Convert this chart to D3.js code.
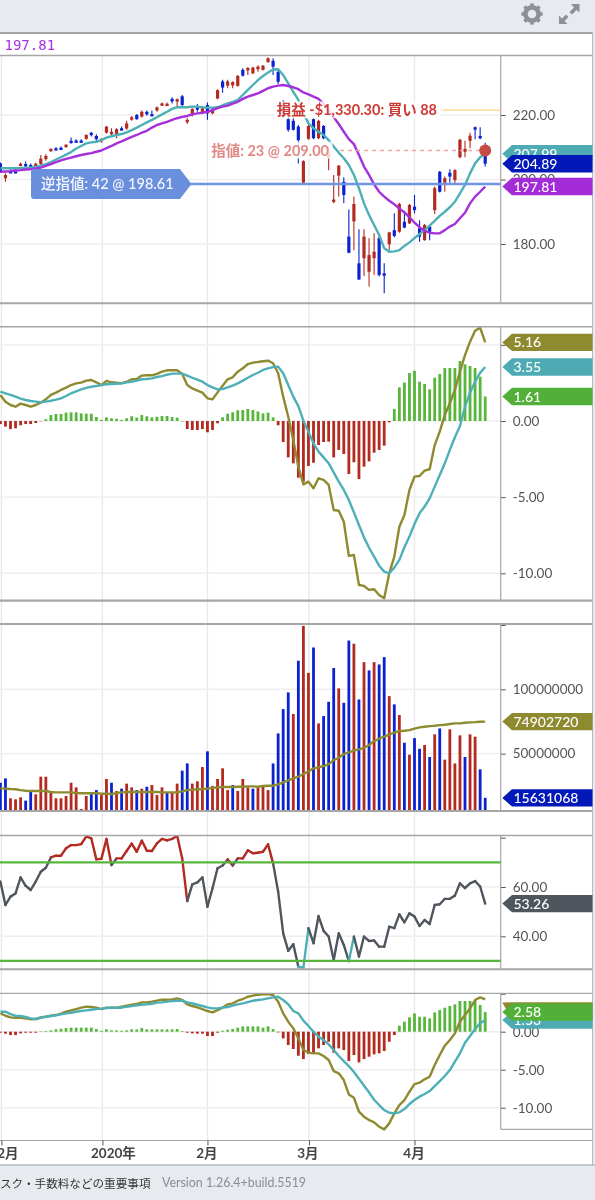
<!DOCTYPE html>
<html>
<head>
<meta charset="utf-8">
<script src="https://cdn.jsdelivr.net/npm/d3@7"></script>
<style>
    html, body { margin: 0; padding: 0; background: #fff; overflow: hidden; }
    svg { display: block; filter: blur(0.5px); font-family: Lato, "Noto Sans CJK JP", sans-serif; }
</style>
</head>
<body>
<svg id="chart" width="595" height="1200"></svg>
<script>
const candleOpen = [
    205.0,200.4,202.6,202.6,204.4,204.8,204.5,204.5,204.8,206.3,
    208.8,209.7,209.9,210.0,212.0,212.1,212.1,212.6,214.5,213.5,
    212.0,214.5,214.1,214.1,215.9,215.8,218.7,220.0,219.5,221.0,
    220.3,221.4,223.1,223.1,225.0,224.3,225.8,218.2,220.0,222.4,
    221.0,223.1,220.5,225.1,230.4,229.1,229.2,229.0,234.0,233.8,
    232.9,234.2,234.0,236.4,236.8,233.4,224.1,218.7,218.2,216.4,
    199.0,212.6,218.7,212.8,216.6,206.6,193.2,201.2,199.3,182.3,
    187.0,174.0,175.6,171.4,175.6,181.8,170.9,179.9,184.3,183.8,
    186.9,186.4,191.6,184.9,181.2,185.4,190.5,202.4,199.0,202.1,
    199.8,206.9,208.6,212.0,216.2,213.5,208.1
];
const candleHigh = [
    205.3,201.9,203.2,203.2,205.3,205.6,205.0,205.2,207.6,207.8,
    209.7,210.0,210.2,210.9,213.0,212.5,212.5,214.0,214.7,214.0,
    212.8,216.6,215.9,215.9,216.4,218.2,219.7,220.3,221.4,221.4,
    221.4,222.6,223.9,223.9,225.5,225.1,226.2,219.0,222.1,223.4,
    222.6,223.9,222.4,228.0,230.9,230.9,230.5,232.4,234.5,234.8,
    235.0,235.4,235.5,237.8,237.6,233.9,224.6,220.5,219.5,216.9,
    206.0,216.9,219.0,218.5,216.9,210.2,201.4,204.5,200.7,190.7,
    194.7,184.6,184.6,181.8,183.3,183.3,174.0,183.8,189.5,192.8,
    190.3,192.4,195.2,187.4,186.2,185.6,197.8,202.6,200.9,203.2,
    203.2,212.6,212.0,214.5,216.4,216.2,211.4
];
const candleLow = [
    202.1,199.3,202.1,202.1,204.2,204.0,204.0,204.2,204.5,205.8,
    208.6,209.2,209.4,209.9,211.2,211.6,211.6,212.3,213.3,211.4,
    211.4,214.3,213.5,212.8,215.2,215.4,218.2,218.5,219.2,219.8,
    219.7,221.0,222.8,222.8,223.6,222.8,222.1,217.2,219.5,221.0,
    220.5,218.5,220.2,224.9,226.9,228.3,228.3,228.8,231.9,232.4,
    232.7,233.4,233.8,236.2,232.4,229.6,219.0,214.8,215.2,205.0,
    198.8,212.3,212.5,212.5,212.5,202.9,192.6,194.7,192.6,177.1,
    178.1,168.8,170.1,166.8,170.4,169.9,164.7,178.1,182.1,183.5,
    184.9,186.2,189.5,180.7,181.0,181.2,189.3,196.0,196.2,199.0,
    198.8,206.6,206.9,209.7,212.5,212.5,204.0
];
const candleClose = [
    202.4,201.4,202.3,202.3,204.9,204.4,204.3,204.9,206.5,207.3,
    209.5,209.4,209.6,210.8,211.7,211.8,211.8,213.8,214.1,212.5,
    212.6,216.4,214.8,215.6,215.6,217.4,219.3,218.7,221.0,220.2,
    220.1,222.4,223.6,223.5,224.2,224.9,223.1,218.5,221.9,222.2,
    222.1,220.5,221.9,227.7,228.5,230.4,230.2,232.1,232.2,234.6,
    234.7,235.0,235.3,237.6,235.0,230.3,219.5,215.4,215.4,212.2,
    205.7,216.6,212.8,218.2,212.8,208.3,193.8,204.3,195.2,177.3,
    192.4,169.0,182.3,176.6,177.6,170.4,170.5,183.6,182.5,192.4,
    185.1,192.1,190.5,182.3,185.9,183.8,197.3,196.2,200.4,200.9,
    202.9,212.3,209.5,213.6,215.8,212.8,204.89
];
const priceMaFast = [
    203.5,203.5,203.5,203.5,203.6,203.6,203.7,203.9,204.3,204.8,
    205.4,206.2,206.9,207.7,208.5,209.6,210.4,211.2,211.5,211.7,
    212.2,213.0,213.4,213.8,214.1,214.6,215.3,216.1,216.9,217.7,
    218.5,219.3,220.2,221.0,221.9,222.4,222.4,222.4,222.6,222.6,
    222.4,222.3,222.3,222.4,223.0,223.6,224.1,224.7,226.2,227.8,
    229.3,230.8,232.1,233.2,234.1,234.2,232.4,229.8,227.2,224.7,
    220.5,217.4,215.9,214.8,213.8,212.2,210.2,208.3,206.6,204.5,
    201.4,197.3,192.6,189.0,185.9,182.8,178.7,177.6,177.7,178.1,
    179.4,180.5,181.8,183.1,184.3,185.7,187.2,188.7,190.0,191.4,
    193.1,195.7,198.3,201.9,205.0,206.9,207.99
];
const priceMaSlow = [
    202.4,202.5,202.6,202.8,202.9,203.1,203.2,203.4,203.7,204.2,
    204.8,205.4,205.9,206.4,206.8,207.2,207.6,207.9,208.2,208.6,
    209.0,209.7,210.4,211.2,211.8,212.5,213.2,213.8,214.5,215.1,
    216.1,216.9,217.4,217.9,218.5,219.0,219.4,219.7,220.2,220.5,
    220.7,221.0,221.5,222.1,222.6,222.9,223.5,224.1,225.0,225.7,
    226.2,226.7,227.5,228.3,228.8,229.1,229.3,229.0,228.6,228.0,
    227.0,226.4,225.7,225.0,223.4,221.6,219.3,217.2,214.8,212.5,
    211.0,207.6,204.0,201.4,198.5,196.2,194.7,193.4,192.3,191.0,
    189.8,188.3,186.6,185.2,184.1,183.5,183.3,183.3,184.3,185.4,
    186.2,188.0,189.7,192.6,194.7,196.2,197.81
];
const macdLine = [
    1.71,1.27,1.05,0.94,1.14,1.05,0.94,1.05,1.20,1.42,
    1.71,1.86,2.04,2.19,2.36,2.47,2.52,2.65,2.69,2.54,
    2.36,2.63,2.54,2.52,2.47,2.58,2.74,2.76,2.98,3.00,
    3.00,3.09,3.24,3.33,3.33,3.33,3.09,2.36,2.14,1.99,
    1.86,1.49,1.42,1.88,2.32,2.74,2.87,3.24,3.46,3.74,
    3.83,3.87,3.92,3.96,3.79,3.13,1.60,0.28,-1.25,-3.00,
    -4.16,-3.98,-4.42,-3.76,-3.87,-4.20,-5.84,-5.89,-6.61,-8.86,
    -8.80,-10.77,-10.83,-11.09,-11.05,-11.42,-11.64,-10.00,-8.91,-6.94,
    -6.17,-4.53,-3.65,-3.61,-3.26,-3.17,-1.58,-0.70,0.39,1.16,
    2.04,3.24,4.33,5.21,5.93,6.13,5.16
];
const macdSignal = [
    1.93,1.82,1.71,1.60,1.47,1.38,1.31,1.27,1.23,1.27,
    1.33,1.40,1.49,1.64,1.82,1.95,2.08,2.17,2.25,2.30,
    2.36,2.41,2.43,2.45,2.47,2.54,2.58,2.65,2.74,2.76,
    2.80,2.89,2.95,3.04,3.11,3.11,3.11,2.98,2.84,2.71,
    2.58,2.36,2.21,2.08,2.10,2.21,2.32,2.47,2.65,2.84,
    3.02,3.17,3.35,3.46,3.54,3.57,3.13,2.36,1.60,0.98,
    0.02,-0.70,-1.47,-2.01,-2.39,-2.78,-3.37,-3.98,-4.53,-5.19,
    -6.00,-6.83,-7.64,-8.32,-8.91,-9.50,-9.89,-10.00,-9.63,-9.12,
    -8.29,-7.59,-6.76,-6.06,-5.62,-5.08,-4.31,-3.54,-2.78,-1.90,
    -1.07,-0.33,0.94,1.86,2.58,3.17,3.55
];
const macdHist = [
    -0.20,-0.37,-0.53,-0.48,-0.28,-0.20,-0.20,-0.13,-0.02,0.11,
    0.39,0.46,0.46,0.55,0.57,0.57,0.50,0.48,0.48,0.26,
    0.07,0.24,0.18,0.15,0.07,0.18,0.31,0.22,0.39,0.31,
    0.24,0.28,0.33,0.33,0.26,0.22,-0.02,-0.53,-0.59,-0.59,
    -0.53,-0.74,-0.59,-0.15,0.24,0.48,0.57,0.70,0.72,0.79,
    0.72,0.63,0.50,0.55,0.24,-0.28,-1.38,-2.39,-2.78,-3.72,
    -3.98,-2.95,-2.74,-1.58,-1.38,-1.36,-2.39,-1.90,-2.17,-3.48,
    -2.71,-3.81,-3.00,-2.65,-2.08,-1.90,-1.62,-0.09,0.79,2.21,
    2.52,3.15,3.30,2.58,2.43,2.08,2.84,3.09,3.48,3.48,
    3.48,3.94,3.72,3.61,3.48,2.91,1.61
];
// volume in millions of shares
const volume = [
    27.4,30.8,15.3,14.5,16.1,13.5,20.5,18.4,32.1,32.1,
    19.7,15.3,15.3,17.1,27.4,23.8,7.0,17.1,18.6,21.7,
    17.9,30.3,27.4,21.0,22.8,26.7,23.8,21.7,22.8,24.3,
    25.6,17.9,23.8,19.7,19.7,26.7,36.8,42.4,26.7,28.5,
    39.6,51.8,24.9,30.3,38.6,21.7,25.6,21.0,30.3,23.8,
    22.8,23.8,24.3,21.7,42.4,65.7,84.6,97.6,80.8,122.2,
    149.3,112.8,132.5,73.5,79.2,90.3,116.5,100.7,89.5,137.9,
    135.4,92.1,121.1,114.7,121.1,119.3,125.0,94.7,88.3,80.0,
    58.5,49.2,62.1,53.8,56.7,47.4,65.0,69.6,45.3,68.9,
    42.4,64.2,47.4,65.0,63.2,37.8,15.63
];
const volumeSide = [...'bbrrrbbrrr' + 'rrrrrrrrbb' + 'rrbrbrrbrb' + 'rrrbrrbbrr' + 'rbrrrrbrrr'
    + 'brrrbbbbrb' + 'rrbrbbbrbb' + 'rbrbrbbrbr' + 'brbbrbrbrr' + 'rrbrrbb'];
const volumeMa = [
    23.0,22.8,22.5,22.3,21.7,21.2,21.0,21.0,21.0,21.0,
    20.2,19.9,19.9,19.9,19.9,19.4,19.2,19.2,19.2,19.2,
    18.9,18.9,18.6,19.4,19.9,20.2,20.2,20.2,20.2,20.2,
    20.2,20.2,19.9,19.9,19.9,19.9,20.7,21.7,22.0,22.3,
    22.3,22.8,23.3,23.8,24.1,24.1,24.1,24.3,24.3,24.6,
    24.6,24.3,24.9,25.1,25.1,26.1,27.7,29.2,30.8,32.1,
    34.2,36.2,38.6,39.3,40.4,41.9,45.0,46.8,49.7,51.0,
    52.3,53.3,54.4,56.7,59.8,61.6,63.2,64.7,66.3,67.6,
    67.8,68.3,69.4,70.4,70.9,71.4,71.7,72.2,72.5,73.0,
    73.5,73.5,74.0,74.3,74.5,74.8,74.9
];
const rsi = [
    62.2,52.7,56.1,57.4,63.9,60.5,58.8,62.2,66.2,67.8,
    72.0,72.7,72.7,75.7,77.0,77.0,77.4,80.5,79.7,71.2,
    71.4,79.5,68.9,71.6,71.6,74.6,77.6,74.3,78.8,74.7,
    74.6,77.7,79.5,78.9,79.5,80.8,71.6,54.3,61.1,61.9,
    63.9,52.0,59.5,67.6,68.7,71.2,68.7,71.6,71.6,74.9,
    73.7,73.9,74.3,77.3,69.6,58.1,41.2,34.1,36.8,27.7,
    27.3,43.3,37.2,48.2,42.2,39.9,30.4,41.2,36.5,29.9,
    39.9,31.8,39.9,38.1,38.3,35.8,35.8,43.9,43.3,48.9,
    45.7,49.3,48.0,44.2,46.6,45.0,52.7,53.0,55.2,55.2,
    56.5,61.5,59.5,61.5,62.4,60.2,53.26
];
const slowLine = [
    2.41,2.10,1.89,1.84,1.84,1.75,1.62,1.67,1.89,1.97,
    2.10,2.19,2.37,2.63,2.81,2.98,3.16,3.29,3.25,3.16,
    2.98,3.16,3.16,3.16,3.29,3.42,3.55,3.64,3.86,3.86,
    3.95,4.08,4.21,4.21,4.25,4.39,4.17,3.60,3.38,3.20,
    2.98,2.72,2.54,2.85,3.16,3.60,3.73,4.08,4.30,4.60,
    4.74,4.87,4.91,4.96,4.82,3.95,2.41,1.32,0.44,-0.88,
    -2.41,-2.76,-2.85,-2.85,-3.20,-3.73,-5.18,-5.48,-6.36,-8.25,
    -8.68,-10.53,-11.18,-11.62,-11.93,-12.50,-12.85,-12.06,-10.75,-9.65,
    -8.99,-7.90,-6.89,-6.71,-6.27,-5.92,-4.39,-3.07,-1.84,-1.10,
    -0.22,1.32,2.19,3.07,4.17,4.52,4.25
];
const slowSignal = [
    2.63,2.63,2.32,2.10,2.06,1.93,1.75,1.67,1.84,1.97,
    2.06,2.15,2.28,2.41,2.50,2.63,2.72,2.81,2.89,2.98,
    3.03,3.11,3.16,3.16,3.16,3.29,3.38,3.46,3.55,3.60,
    3.68,3.82,3.86,3.95,4.03,4.08,4.08,3.86,3.73,3.55,
    3.38,3.20,3.07,3.07,3.16,3.25,3.42,3.60,3.73,3.90,
    4.08,4.17,4.25,4.39,4.52,4.60,4.17,3.60,2.72,2.41,
    1.45,0.75,0.00,-0.66,-1.10,-1.67,-2.41,-3.20,-3.86,-4.52,
    -5.31,-6.18,-7.11,-7.98,-8.95,-9.65,-10.31,-10.66,-10.75,-10.61,
    -10.18,-9.52,-8.99,-8.55,-8.20,-7.81,-7.15,-6.49,-5.83,-5.04,
    -3.95,-2.85,-1.45,-0.57,0.35,1.10,1.53
];
const slowHist = [
    -0.13,-0.26,-0.44,-0.44,-0.22,-0.13,-0.13,-0.13,-0.04,0.09,
    0.18,0.31,0.39,0.48,0.53,0.53,0.53,0.53,0.53,0.35,
    0.13,0.31,0.18,0.18,0.13,0.18,0.31,0.31,0.48,0.31,
    0.31,0.31,0.31,0.31,0.31,0.35,0.09,-0.13,-0.22,-0.26,
    -0.26,-0.57,-0.57,-0.13,0.13,0.26,0.35,0.53,0.70,0.70,
    0.70,0.70,0.53,0.70,0.35,-0.09,-0.88,-1.75,-2.28,-3.16,
    -3.60,-2.94,-2.85,-2.19,-1.75,-1.32,-2.76,-2.19,-2.41,-3.86,
    -3.07,-4.04,-3.60,-3.29,-2.98,-2.85,-2.54,-1.32,-0.44,0.79,
    1.32,1.89,2.41,1.97,1.97,1.75,2.54,2.85,3.16,3.38,
    3.60,4.04,4.04,4.04,4.04,3.51,2.58
];

const monthTicks = [0.2, 20.2, 41, 61.1, 82];
const monthLabels = ['12月', '2020年', '2月', '3月', '4月'];
const rsiBands = [70, 30];

const takeProfit = 221.5;
const limitOrder = 209;
const stopOrder = 198.61;

const colors = {
    up: '#b22a20',
    down: '#0a22d2',
    teal: '#4cb0b6',
    purple: '#a62fdc',
    olive: '#8e8a30',
    green: '#58b63c',
    grid: '#eeeeee',
    rule: '#a6a6a6',
    slate: '#50565e',
    chrome: '#e7ebef'
};

const svg = d3.select('#chart');
const x = d3.scaleLinear().domain([0, 96]).range([0.4, 485.2]);
const axisX = 500.7;
const rightEdge = 592.5;

const yPrice = d3.scaleLinear().domain([180, 220]).range([244, 115]);
const yMacd = d3.scaleLinear().domain([-10, 0]).range([573.3, 421]);
const yVolume = d3.scaleLinear().domain([0, 100]).range([818, 689.3]);
const yRsi = d3.scaleLinear().domain([40, 60]).range([936.3, 887]);
const ySlow = d3.scaleLinear().domain([-10, 0]).range([1107.7, 1031.7]);

const fixed2 = d => d.toFixed(2);
const panels = [
    { id: 'price', top: 56, bottom: 302, y: yPrice, ticks: [180, 200, 220], format: fixed2 },
    { id: 'macd', top: 327, bottom: 600, y: yMacd, ticks: [-10, -5, 0, 5], format: fixed2 },
    { id: 'volume', top: 625, bottom: 811, y: yVolume, ticks: [50, 100, 150], format: d => d === 150 ? '' : String(d * 1e6) },
    { id: 'rsi', top: 836, bottom: 969, y: yRsi, ticks: [40, 60, 80], format: d => d === 80 ? '' : d.toFixed(2) },
    { id: 'slow', top: 994, bottom: 1129, y: ySlow, ticks: [-10, -5, 0, 5], format: d => d === 5 ? '' : d.toFixed(2) }
];

// page chrome
svg.append('rect').attr('width', 595).attr('height', 33).attr('fill', colors.chrome);
svg.append('rect').attr('y', 1165).attr('width', 595).attr('height', 35).attr('fill', colors.chrome);
svg.append('rect').attr('x', rightEdge).attr('width', 3).attr('height', 1200).attr('fill', colors.chrome);

const defs = svg.append('defs');
panels.forEach(p => {
    defs.append('clipPath').attr('id', `clip-${p.id}`)
        .append('rect').attr('x', 0).attr('y', p.top).attr('width', axisX).attr('height', p.bottom - p.top);
});
defs.append('clipPath').attr('id', 'clip-slow-wide')
    .append('rect').attr('x', 0).attr('y', 994).attr('width', axisX).attr('height', 146);

// grid behind everything
svg.append('g').selectAll('line').data(monthTicks).join('line')
    .attr('x1', d => x(d)).attr('x2', d => x(d))
    .attr('y1', 56).attr('y2', 1140)
    .attr('stroke', '#e9e9e9').attr('stroke-width', 1.4);

panels.forEach(p => {
    const axis = d3.axisRight(p.y).tickValues(p.ticks).tickFormat(p.format)
        .tickSize(5).tickPadding(7).tickSizeOuter(0);
    svg.append('g').selectAll('line').data(p.ticks.filter(t => p.format(t) !== '')).join('line')
        .attr('x1', 0).attr('x2', axisX)
        .attr('y1', d => p.y(d)).attr('y2', d => p.y(d))
        .attr('stroke', colors.grid).attr('stroke-width', 1.4);
    const g = svg.append('g').attr('transform', `translate(${axisX},0)`).call(axis);
    g.select('.domain').remove();
    g.selectAll('.tick line').attr('stroke', '#555');
    g.selectAll('.tick text').attr('fill', '#555').attr('font-size', 13.5).attr('font-family', 'Lato');
    svg.append('line').attr('x1', axisX).attr('x2', axisX)
        .attr('y1', p.top).attr('y2', p.bottom)
        .attr('stroke', colors.rule).attr('stroke-width', 1.2);
});

function drawLine(parent, values, scale, color, width = 2.4) {
    const line = d3.line().x((d, i) => x(i)).y(d => scale(d));
    parent.append('path').datum(values)
        .attr('fill', 'none').attr('stroke', color).attr('stroke-width', width)
        .attr('stroke-linejoin', 'round').attr('d', line);
}

function drawHistogram(parent, values, scale) {
    parent.append('g').selectAll('rect').data(values).join('rect')
        .attr('x', (d, i) => x(i) - 1.4)
        .attr('width', 2.8)
        .attr('y', d => Math.min(scale(d), scale(0)))
        .attr('height', d => Math.abs(scale(d) - scale(0)))
        .attr('fill', d => d >= 0 ? colors.green : colors.up);
}

// price panel
const pricePlot = svg.append('g').attr('clip-path', 'url(#clip-price)');
const candles = pricePlot.append('g').selectAll('g').data(candleOpen).join('g')
    .attr('fill', (d, i) => candleClose[i] >= d ? colors.up : colors.down)
    .attr('stroke', (d, i) => candleClose[i] >= d ? colors.up : colors.down);
candles.append('line')
    .attr('x1', (d, i) => x(i)).attr('x2', (d, i) => x(i))
    .attr('y1', (d, i) => yPrice(candleHigh[i])).attr('y2', (d, i) => yPrice(candleLow[i]))
    .attr('stroke-width', 1.1);
candles.append('rect')
    .attr('x', (d, i) => x(i) - 1.6).attr('width', 3.2)
    .attr('y', (d, i) => yPrice(Math.max(d, candleClose[i])))
    .attr('height', (d, i) => Math.max(2.4, Math.abs(yPrice(d) - yPrice(candleClose[i]))))
    .attr('stroke', 'none');
drawLine(pricePlot, priceMaFast, yPrice, colors.teal);
drawLine(pricePlot, priceMaSlow, yPrice, colors.purple);

// order lines
svg.append('line').attr('x1', 442).attr('x2', axisX)
    .attr('y1', yPrice(takeProfit)).attr('y2', yPrice(takeProfit))
    .attr('stroke', '#f8d680').attr('stroke-width', 1.4);
svg.append('line').attr('x1', 340).attr('x2', x(96))
    .attr('y1', yPrice(limitOrder)).attr('y2', yPrice(limitOrder))
    .attr('stroke', '#eeaaa6').attr('stroke-width', 1.4).attr('stroke-dasharray', '4 4');
svg.append('circle').attr('cx', x(96)).attr('cy', yPrice(limitOrder)).attr('r', 6).attr('fill', '#c54b45');

function haloText(str, anchorX, y, color, opts = {}) {
    const g = svg.append('g');
    const bg = g.append('rect').attr('fill', '#fff').attr('fill-opacity', 0.82);
    const t = g.append('text').text(str)
        .attr('x', anchorX).attr('y', y).attr('dy', '0.36em')
        .attr('text-anchor', 'end').attr('fill', color)
        .attr('font-size', opts.size || 14).attr('font-weight', opts.weight || 700);
    const box = t.node().getBBox();
    bg.attr('x', box.x - 3).attr('y', box.y).attr('width', box.width + 6).attr('height', box.height);
}
haloText('損益 -$1,330.30: 買い 88', 437, yPrice(takeProfit), '#cf3a34', { size: 14.5 });
haloText('指値: 23 @ 209.00', 329, yPrice(limitOrder), '#e08a86', { size: 14.5 });

// stop order tag
const stopY = yPrice(stopOrder);
svg.append('line').attr('x1', 190).attr('x2', axisX)
    .attr('y1', stopY).attr('y2', stopY)
    .attr('stroke', '#6f95e4').attr('stroke-width', 2.4);
svg.append('path')
    .attr('d', `M34,${stopY - 15}H180L191.5,${stopY}L180,${stopY + 15}H34Q31,${stopY + 15} 31,${stopY + 12}V${stopY - 12}Q31,${stopY - 15} 34,${stopY - 15}Z`)
    .attr('fill', '#6a90dd');
svg.append('text').text('逆指値: 42 @ 198.61')
    .attr('x', 41).attr('y', stopY).attr('dy', '0.36em')
    .attr('fill', '#f4f7fe').attr('font-size', 14.5).attr('font-weight', 500);

// MACD panel
const macdPlot = svg.append('g').attr('clip-path', 'url(#clip-macd)');
drawHistogram(macdPlot, macdHist, yMacd);
drawLine(macdPlot, macdLine, yMacd, colors.olive);
drawLine(macdPlot, macdSignal, yMacd, colors.teal);

// volume panel
const volumePlot = svg.append('g').attr('clip-path', 'url(#clip-volume)');
volumePlot.append('g').selectAll('rect').data(volume).join('rect')
    .attr('x', (d, i) => x(i) - 1.4)
    .attr('width', 2.8)
    .attr('y', d => yVolume(d))
    .attr('height', d => yVolume(0) - yVolume(d))
    .attr('fill', (d, i) => volumeSide[i] === 'r' ? colors.up : colors.down);
drawLine(volumePlot, volumeMa, yVolume, colors.olive);

// RSI panel, each step takes the colour of the zone it starts in
const rsiPlot = svg.append('g').attr('clip-path', 'url(#clip-rsi)');
rsiPlot.append('g').selectAll('line').data(rsi.slice(1)).join('line')
    .attr('x1', (d, i) => x(i)).attr('x2', (d, i) => x(i + 1))
    .attr('y1', (d, i) => yRsi(rsi[i])).attr('y2', d => yRsi(d))
    .attr('stroke', (d, i) => rsi[i] > rsiBands[0] ? colors.up : rsi[i] < rsiBands[1] ? colors.teal : colors.slate)
    .attr('stroke-width', 2.4).attr('stroke-linecap', 'round');
svg.append('g').selectAll('line').data(rsiBands).join('line')
    .attr('x1', 0).attr('x2', axisX)
    .attr('y1', d => yRsi(d)).attr('y2', d => yRsi(d))
    .attr('stroke', colors.green).attr('stroke-width', 2.2);

// second MACD panel
const slowPlot = svg.append('g').attr('clip-path', 'url(#clip-slow-wide)');
drawHistogram(slowPlot, slowHist, ySlow);
drawLine(slowPlot, slowLine, ySlow, colors.olive);
drawLine(slowPlot, slowSignal, ySlow, colors.teal);

// separators between the panels
[[33, 2], [55.5, 1.4], [303.3, 2], [326.7, 1.4], [600.7, 2.2], [624, 2], [811, 2], [835.5, 1.6], [969.3, 2], [993.3, 1.2], [1140.5, 1.2]].forEach(([y, w]) => {
    svg.append('line').attr('x1', 0).attr('x2', rightEdge).attr('y1', y).attr('y2', y)
        .attr('stroke', colors.rule).attr('stroke-width', w);
});
svg.append('line').attr('x1', axisX).attr('x2', rightEdge).attr('y1', 1129.3).attr('y2', 1129.3)
    .attr('stroke', colors.rule).attr('stroke-width', 1.2);
svg.append('line').attr('x1', 0).attr('x2', 595).attr('y1', 1165).attr('y2', 1165)
    .attr('stroke', '#b5babf').attr('stroke-width', 1.4);
svg.append('line').attr('x1', rightEdge).attr('x2', rightEdge).attr('y1', 33).attr('y2', 1165)
    .attr('stroke', '#b5babf').attr('stroke-width', 1);

// value tags at the right of the plots
function valueTag(str, y, color, tipY = y) {
    const h = 8.7, tipX = 502.3, shoulder = 512;
    const g = svg.append('g');
    g.append('path')
        .attr('d', `M${tipX},${tipY}L${shoulder},${y - h}H${rightEdge}V${y + h}H${shoulder}Z`)
        .attr('fill', color);
    g.append('text').text(str)
        .attr('x', 513.5).attr('y', y).attr('dy', '0.36em')
        .attr('fill', '#fff').attr('font-size', 14).attr('font-weight', 500);
}
valueTag('207.99', yPrice(207.99), '#4fabb3');
valueTag('204.89', yPrice(204.89), '#0318b8');
valueTag('197.81', yPrice(197.81), '#a42bd8');
valueTag('5.16', yMacd(5.16), colors.olive);
valueTag('3.55', yMacd(3.55), '#4fabb3');
valueTag('1.61', yMacd(1.61), '#52b038');
valueTag('74902720', yVolume(74.90272), colors.olive);
valueTag('15631068', yVolume(15.631068), '#0318b8');
valueTag('53.26', yRsi(53.26), colors.slate);
valueTag('4.25', 1011, colors.olive, 1002.5);
valueTag('1.53', ySlow(1.53), '#4fabb3');
valueTag('2.58', ySlow(2.58), '#52b038');

// time axis
const bottomAxis = d3.axisBottom(x).tickValues(monthTicks)
    .tickFormat((d, i) => monthLabels[i]).tickSize(5).tickPadding(3).tickSizeOuter(0);
const timeAxis = svg.append('g').attr('transform', 'translate(0,1140.5)').call(bottomAxis);
timeAxis.select('.domain').remove();
timeAxis.selectAll('.tick line').attr('stroke', '#555');
// labels sit a little off their ticks in the reference
const monthLabelShift = [2, 10.5, -1, -1.5, -1];
timeAxis.selectAll('.tick text').attr('fill', '#444').attr('font-size', 13.5).attr('font-weight', 700)
    .attr('dx', (d, i) => monthLabelShift[i])
    .attr('font-family', 'Lato, "Noto Sans CJK JP", sans-serif');

// legend value
svg.append('text').text('197.81')
    .attr('x', 4.5).attr('y', 45).attr('dy', '0.36em')
    .attr('fill', '#a62fe4').attr('font-family', '"DejaVu Sans Mono", monospace').attr('font-size', 14);

// toolbar icons
const gear = svg.append('g').attr('transform', 'translate(532,14)').attr('fill', '#8d9195').attr('stroke', '#8d9195');
gear.append('circle').attr('r', 6.6).attr('fill', 'none').attr('stroke-width', 4.6);
gear.selectAll('line').data(d3.range(8)).join('line')
    .attr('x1', 0).attr('y1', -7).attr('x2', 0).attr('y2', -10.6)
    .attr('stroke-width', 3.6)
    .attr('transform', d => `rotate(${d * 45})`);
const expand = svg.append('g').attr('fill', '#8d9195').attr('stroke', 'none');
expand.append('path').attr('d', 'M579.5,4V12.5L576.5,10L572,14.5L569.5,12L574,7.5L571,4Z');
expand.append('path').attr('d', 'M559,24V15.5L562,18.5L566,14.5L568.5,17L564.5,21L567.5,24Z');

// footer
svg.append('text').text('スク・手数料などの重要事項')
    .attr('x', 0).attr('y', 1184).attr('dy', '0.36em')
    .attr('fill', '#333').attr('font-size', 11.6);
svg.append('text').text('Version 1.26.4+build.5519')
    .attr('x', 162).attr('y', 1183).attr('dy', '0.36em')
    .attr('fill', '#888e94').attr('font-size', 12.4).attr('font-family', 'Lato');
</script>
</body>
</html>
